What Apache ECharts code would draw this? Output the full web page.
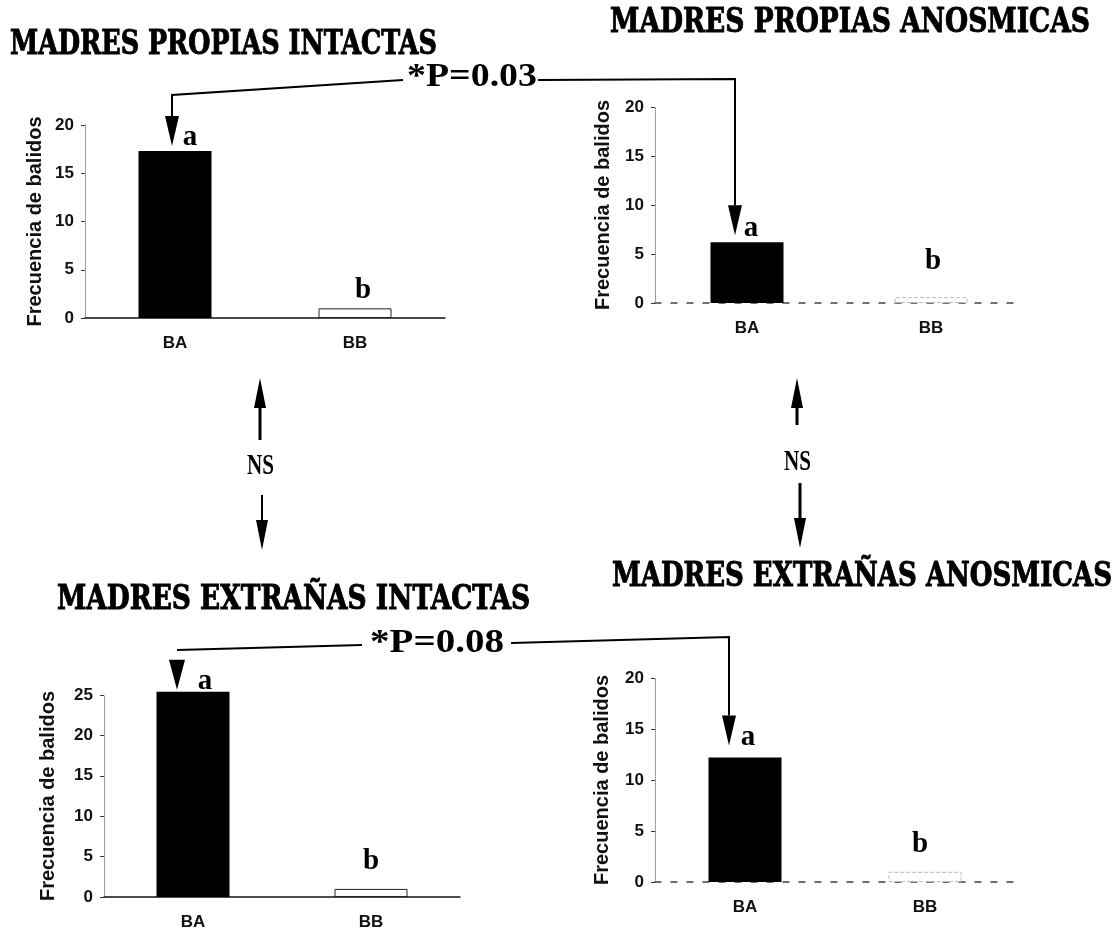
<!DOCTYPE html>
<html>
<head>
<meta charset="utf-8">
<script src="https://cdn.jsdelivr.net/npm/echarts@6/dist/echarts.min.js"></script>
<style>
  html, body { margin: 0; padding: 0; background: #fff; }
  #chart { width: 1116px; height: 937px; }
</style>
</head>
<body>
<div id="chart"></div>
<script>
// ---------- data ----------
const categories = ['BA', 'BB'];
const propiasIntactas = [17.3, 1.0];
const propiasAnosmicas = [6.2, 0.6];
const extranasIntactas = [25.4, 1.0];
const extranasAnosmicas = [12.2, 1.0];
const letters = ['a', 'b'];
const yMax = [20, 20, 25, 20];
const yInterval = 5;
const titles = ['MADRES PROPIAS INTACTAS', 'MADRES PROPIAS ANOSMICAS', 'MADRES EXTRAÑAS INTACTAS', 'MADRES EXTRAÑAS ANOSMICAS'];
const yAxisName = 'Frecuencia de balidos';
const pTop = '*P=0.03';
const pBottom = '*P=0.08';
const nsLabel = 'NS';

const seriesData = [propiasIntactas, propiasAnosmicas, extranasIntactas, extranasAnosmicas];

// ---------- layout / style ----------
const layout = [
  { left: 85,  top: 125, width: 360, height: 193, nameGap: 40, title: { x: 10,  y: 45,  w: 427 },
    letter: [{ dx: 15, d: -1 }, { dx: 8, d: 3 }], bbBorder: '#222', bbType: 'solid', base: 'solid', baseColor: '#111', tip: [-3, -5] },
  { left: 655, top: 107, width: 368, height: 196, nameGap: 42, title: { x: 610, y: 23,  w: 480 },
    letter: [{ dx: 4, d: -1 }, { dx: 2, d: 21 }], bbBorder: '#bbb', bbType: 'dashed', base: [6, 10], baseColor: '#444', tip: [-12, -7] },
  { left: 104, top: 695, width: 356, height: 202, nameGap: 46, title: { x: 57,  y: 600, w: 473 },
    letter: [{ dx: 12, d: -4 }, { dx: 0, d: 13 }], bbBorder: '#222', bbType: 'solid', base: 'solid', baseColor: '#111', tip: [-16, -2] },
  { left: 655, top: 678, width: 360, height: 204, nameGap: 43, title: { x: 612, y: 577, w: 500 },
    letter: [{ dx: 3, d: 6 }, { dx: -5, d: 13 }], bbBorder: '#bbb', bbType: 'dashed', base: [6, 10], baseColor: '#444', tip: [-16, -12] }
];

const sansFont = '"Liberation Sans", Arial, sans-serif';
const serifFont = '"Liberation Serif", "Times New Roman", serif';
const titleFont = '"DejaVu Serif", serif';

const chart = echarts.init(document.getElementById('chart'), null, { renderer: 'canvas' });

const option = {
  animation: false,
  backgroundColor: '#fff',
  grid: layout.map(l => ({ left: l.left, top: l.top, width: l.width, height: l.height })),
  xAxis: layout.map((l, i) => ({
    type: 'category', gridIndex: i, data: categories,
    axisLine: { lineStyle: { color: l.baseColor, width: 1.5, type: l.base } },
    axisTick: { show: false },
    axisLabel: { fontFamily: sansFont, fontWeight: 'bold', fontSize: 17, color: '#111', margin: 17 }
  })),
  yAxis: layout.map((l, i) => ({
    type: 'value', gridIndex: i, min: 0, max: yMax[i], interval: yInterval,
    splitLine: { show: false },
    axisLine: { show: true, lineStyle: { color: '#888', type: 'dotted', width: 1 } },
    axisTick: { show: true, length: 4, lineStyle: { color: '#333' } },
    axisLabel: { fontFamily: sansFont, fontWeight: 'bold', fontSize: 17, color: '#111', margin: 11 },
    name: yAxisName, nameLocation: 'middle', nameGap: l.nameGap,
    nameTextStyle: { fontFamily: sansFont, fontWeight: 'bold', fontSize: 20, color: '#111' }
  })),
  series: seriesData.map((vals, i) => ({
    type: 'bar', xAxisIndex: i, yAxisIndex: i, barWidth: 73, silent: true, clip: false,
    data: vals.map((v, j) => ({
      value: v,
      itemStyle: j === 0
        ? { color: '#000' }
        : { color: '#fff', borderColor: layout[i].bbBorder, borderWidth: 1, borderType: layout[i].bbType },
      label: {
        show: true, position: 'top', formatter: letters[j],
        distance: layout[i].letter[j].d, offset: [layout[i].letter[j].dx, 0],
        fontFamily: serifFont, fontWeight: 'bold', fontSize: 29, color: '#000'
      }
    }))
  }))
};
chart.setOption(option);

// ---------- annotations ----------
const ctx = document.createElement('canvas').getContext('2d');
function measure(text, font) { ctx.font = font; return ctx.measureText(text).width; }
function fitText(text, x, y, w, size, family, weight, strokeW) {
  const m = measure(text, weight + ' ' + size + 'px ' + family);
  const style = { text: text, fontSize: size, fontFamily: family, fontWeight: weight, fill: '#000',
                  textAlign: 'left', align: 'left', textVerticalAlign: 'middle', verticalAlign: 'middle' };
  if (strokeW) { style.stroke = '#000'; style.lineWidth = strokeW; }
  return { type: 'text', x: x, y: y, scaleX: w / m, silent: true, style: style };
}
function line(points, w) {
  return { type: 'polyline', silent: true, shape: { points: points }, style: { stroke: '#000', lineWidth: w || 2, fill: null } };
}
function headDown(x, y, hw, h) {
  return { type: 'polygon', silent: true, shape: { points: [[x - hw, y - h], [x + hw, y - h], [x, y]] }, style: { fill: '#000' } };
}
function headUp(x, y, hw, h) {
  return { type: 'polygon', silent: true, shape: { points: [[x - hw, y + h], [x + hw, y + h], [x, y]] }, style: { fill: '#000' } };
}

const tips = seriesData.map((vals, i) => {
  const p = chart.convertToPixel({ seriesIndex: i }, [categories[0], vals[0]]);
  return [p[0] + layout[i].tip[0], p[1] + layout[i].tip[1]];
});

const graphics = [];
layout.forEach((l, i) => graphics.push(fitText(titles[i], l.title.x, l.title.y, l.title.w, 34, titleFont, 'bold', 1)));

// top comparison
graphics.push(headDown(tips[0][0], tips[0][1], 7, 30));
graphics.push(line([[tips[0][0], tips[0][1] - 30], [tips[0][0], 95], [403, 80]]));
graphics.push(fitText(pTop, 407, 77, 130, 34, serifFont, 'bold'));
graphics.push(line([[538, 80], [tips[1][0], 79], [tips[1][0], tips[1][1] - 30]]));
graphics.push(headDown(tips[1][0], tips[1][1], 7, 30));

// bottom comparison
graphics.push(headDown(tips[2][0], tips[2][1], 8, 30));
graphics.push(line([[tips[2][0], 650], [362, 645]]));
graphics.push(fitText(pBottom, 370, 643, 134, 34, serifFont, 'bold'));
graphics.push(line([[511, 643], [tips[3][0], 637], [tips[3][0], tips[3][1] - 30]]));
graphics.push(headDown(tips[3][0], tips[3][1], 7, 30));

// NS arrows
graphics.push(headUp(260, 378, 6, 30));
graphics.push(line([[260, 405], [260, 440]], 3));
graphics.push(fitText(nsLabel, 247, 466, 27, 30, serifFont, 'bold'));
graphics.push(line([[262, 495], [262, 525]], 2));
graphics.push(headDown(262, 550, 6, 30));

graphics.push(headUp(797, 378, 6, 30));
graphics.push(line([[797, 405], [797, 425]], 3));
graphics.push(fitText(nsLabel, 784, 462, 27, 30, serifFont, 'bold'));
graphics.push(line([[800, 483], [800, 520]], 3));
graphics.push(headDown(800, 548, 6, 30));

chart.setOption({ graphic: graphics });
</script>
</body>
</html>
